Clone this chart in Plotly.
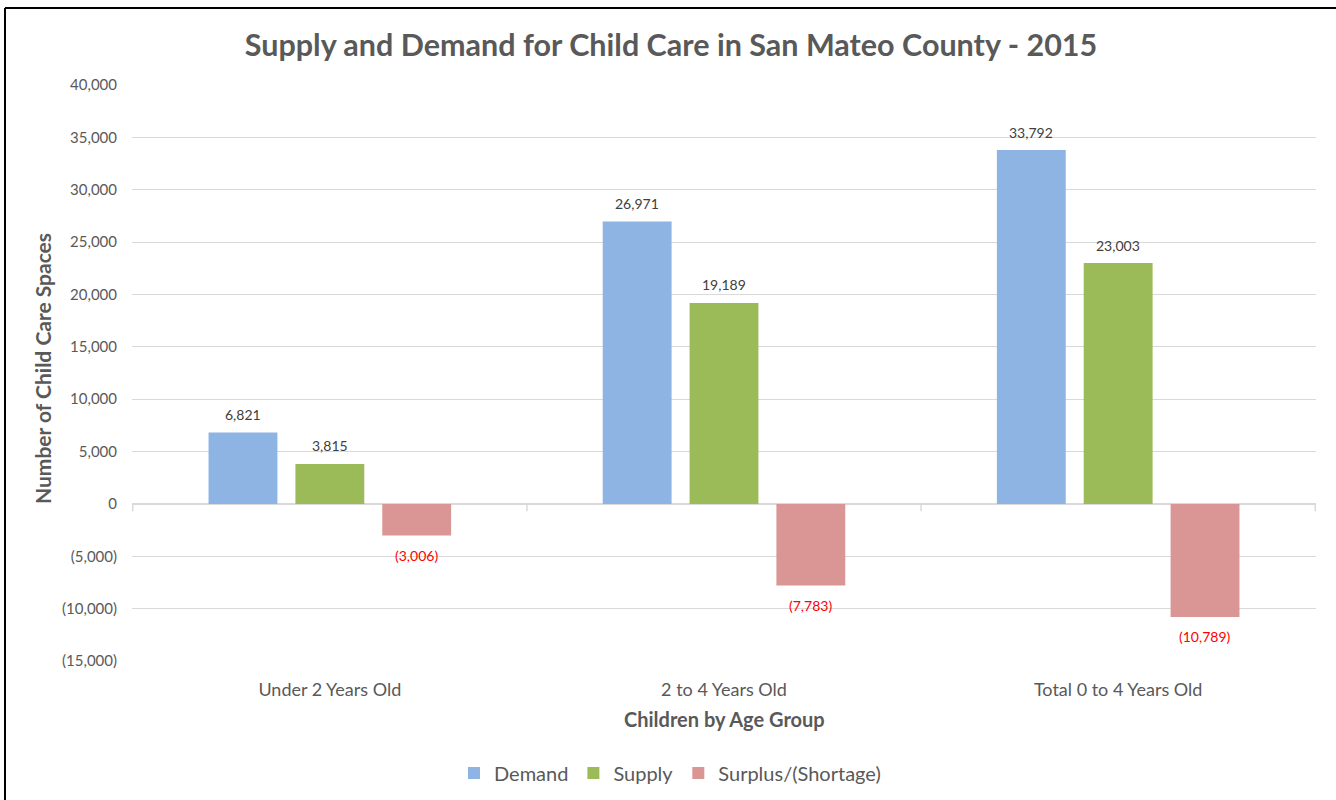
import plotly.graph_objects as go

categories = ["Under 2 Years Old", "2 to 4 Years Old", "Total 0 to 4 Years Old"]
demand = [6821, 26971, 33792]
supply = [3815, 19189, 23003]
surplus = [-3006, -7783, -10789]
series_names = ["Demand", "Supply", "Surplus/(Shortage)"]
series_colors = ["#8EB4E3", "#9BBB59", "#D99694"]
tick_vals = [40000, 35000, 30000, 25000, 20000, 15000, 10000, 5000, 0, -5000, -10000, -15000]
tick_text = ["40,000", "35,000", "30,000", "25,000", "20,000", "15,000", "10,000", "5,000", "0",
             "(5,000)", "(10,000)", "(15,000)"]

W, H = 1336, 800
ML, MR, MT, MB = 132, 20, 85, 139
PW, PH = W - ML - MR, H - MT - MB

FONT = "Lato"
GREY = "#595959"

def fmt(v):
    return f"({abs(v):,})" if v < 0 else f"{v:,}"

fig = go.Figure()
all_series = [demand, supply, surplus]
for name, vals, col in zip(series_names, all_series, series_colors):
    fig.add_trace(go.Bar(x=categories, y=vals, name=name, marker=dict(color=col, line=dict(width=0)),
                         hoverinfo="skip"))

# data labels
cat_w = PW / len(categories)
slot = cat_w * (1 - 0.339) / 3
for si, vals in enumerate(all_series):
    for c, v in zip(categories, vals):
        neg = v < 0
        fig.add_annotation(
            x=c, y=v, xref="x", yref="y", text=fmt(v), showarrow=False,
            xshift=(si - 1) * slot, yshift=-20 if neg else 18,
            font=dict(family=FONT, size=14, color="#FF0000" if neg else "#404040"),
        )

# category axis tick marks at zero line
for b in [i - 0.5 for i in range(len(categories) + 1)]:
    fig.add_shape(type="line", xref="x", yref="y", x0=b, x1=b, y0=0, y1=-700,
                  line=dict(color="#D9D9D9", width=1.5))

# outer frame (left and top edges)
fx = (5 - ML) / PW
fy = 1 + (MT - 8) / PH
fig.add_shape(type="line", xref="paper", yref="paper", x0=fx, x1=fx, y0=-MB / PH, y1=fy,
              line=dict(color="black", width=2))
fig.add_shape(type="line", xref="paper", yref="paper", x0=fx, x1=1 + MR / PW, y0=fy, y1=fy,
              line=dict(color="black", width=2))

# axis titles
fig.add_annotation(text="<b>Number of Child Care Spaces</b>", xref="paper", yref="paper",
                   x=(42 - ML) / PW, y=1 - (369 - MT) / PH, textangle=-90, showarrow=False,
                   xanchor="center", yanchor="middle",
                   font=dict(family=FONT, size=21, color=GREY))
fig.add_annotation(text="<b>Children by Age Group</b>", xref="paper", yref="paper",
                   x=0.5, y=-(719 - MT - PH) / PH, showarrow=False,
                   xanchor="center", yanchor="middle",
                   font=dict(family=FONT, size=20, color=GREY))

fig.update_layout(
    width=W, height=H,
    margin=dict(l=ML, r=MR, t=MT, b=MB, autoexpand=False),
    paper_bgcolor="white", plot_bgcolor="white",
    barmode="group", bargap=0.339, bargroupgap=0.207,
    title=dict(text="<b>Supply and Demand for Child Care in San Mateo County - 2015</b>",
               x=(671 - ML) / PW, xref="paper", xanchor="center", y=1 - 45 / H, yanchor="middle",
               font=dict(family=FONT, size=30.5, color=GREY)),
    font=dict(family=FONT, color=GREY),
    legend=dict(orientation="h", x=(670 - ML) / PW, xanchor="center", y=-(773 - MT - PH) / PH,
                yanchor="middle", font=dict(family=FONT, size=20, color=GREY), itemwidth=30,
                traceorder="normal"),
    showlegend=True,
)
fig.update_yaxes(range=[-15000, 40000], tickvals=tick_vals, ticktext=tick_text,
                 showgrid=True, gridcolor="#D9D9D9", gridwidth=1.3,
                 zeroline=True, zerolinecolor="#D9D9D9", zerolinewidth=1.5,
                 showline=False, ticks="", ticklabelstandoff=14,
                 tickfont=dict(family=FONT, size=15, color=GREY))
fig.update_xaxes(showgrid=False, showline=False, ticks="", ticklabelstandoff=16,
                 tickfont=dict(family=FONT, size=18, color=GREY))

fig.write_html(
    "out.html",
    config={"displayModeBar": False},
    post_script="document.body.style.margin='0px';document.documentElement.style.overflow='hidden';",
)
